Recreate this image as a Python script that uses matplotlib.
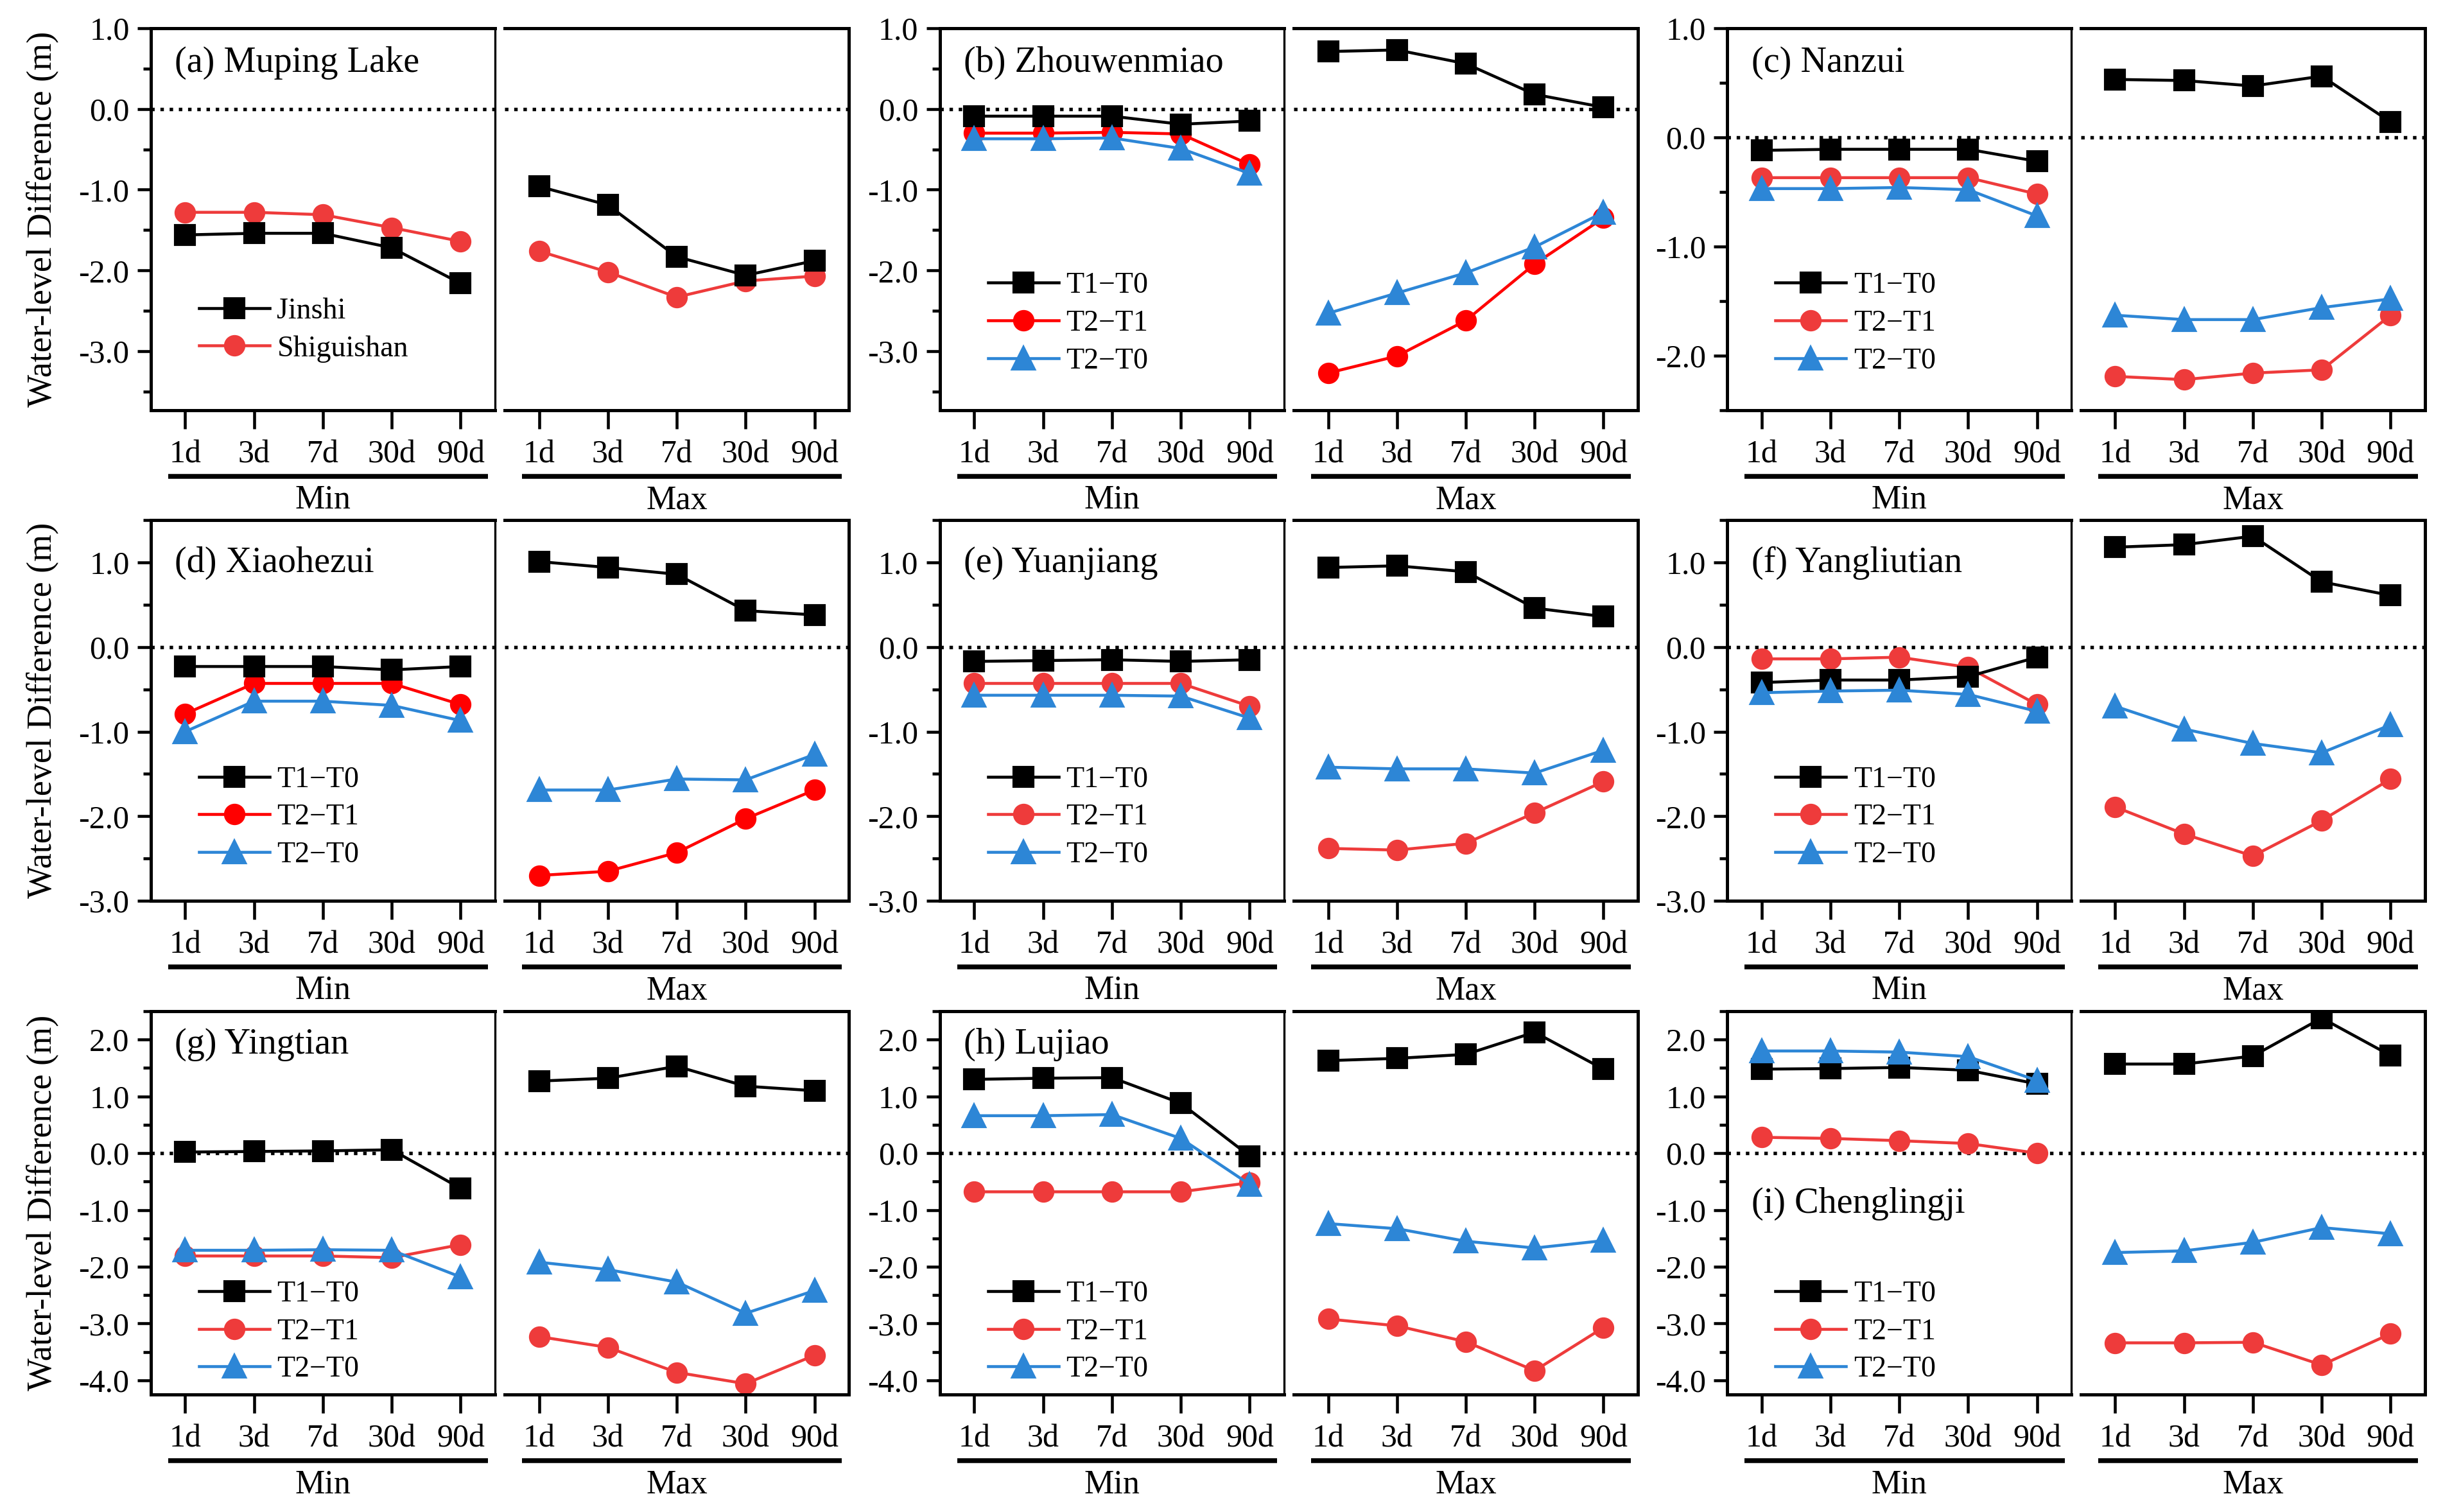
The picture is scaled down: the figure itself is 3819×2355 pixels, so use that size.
import matplotlib.pyplot as plt
import numpy as np
from matplotlib.ticker import MultipleLocator, FormatStrFormatter
from matplotlib.lines import Line2D

plt.rcParams['font.family'] = ['Liberation Serif', 'DejaVu Serif']
plt.rcParams['axes.unicode_minus'] = False

# x categories (duration of the min / max water level)
durations = ['1d', '3d', '7d', '30d', '90d']

# (a) Muping Lake
jinshi_min = [-1.56, -1.54, -1.54, -1.72, -2.16]
jinshi_max = [-0.96, -1.19, -1.83, -2.06, -1.88]
shigui_min = [-1.28, -1.28, -1.31, -1.47, -1.64]
shigui_max = [-1.76, -2.02, -2.33, -2.13, -2.07]

# (b) Zhouwenmiao
zhou_t1t0_min = [-0.09, -0.09, -0.09, -0.19, -0.15]
zhou_t1t0_max = [0.71, 0.73, 0.56, 0.18, 0.02]
zhou_t2t1_min = [-0.30, -0.30, -0.29, -0.31, -0.69]
zhou_t2t1_max = [-3.27, -3.06, -2.62, -1.92, -1.35]
zhou_t2t0_min = [-0.37, -0.37, -0.36, -0.49, -0.80]
zhou_t2t0_max = [-2.53, -2.28, -2.03, -1.71, -1.28]

# (c) Nanzui
nanz_t1t0_min = [-0.12, -0.11, -0.11, -0.11, -0.22]
nanz_t1t0_max = [0.53, 0.52, 0.47, 0.56, 0.14]
nanz_t2t1_min = [-0.37, -0.37, -0.37, -0.37, -0.52]
nanz_t2t1_max = [-2.19, -2.22, -2.16, -2.13, -1.63]
nanz_t2t0_min = [-0.47, -0.47, -0.46, -0.48, -0.72]
nanz_t2t0_max = [-1.63, -1.67, -1.67, -1.56, -1.48]

# (d) Xiaohezui
xiao_t1t0_min = [-0.23, -0.23, -0.23, -0.27, -0.23]
xiao_t1t0_max = [1.01, 0.94, 0.86, 0.43, 0.38]
xiao_t2t1_min = [-0.79, -0.43, -0.43, -0.43, -0.68]
xiao_t2t1_max = [-2.70, -2.65, -2.43, -2.03, -1.69]
xiao_t2t0_min = [-1.00, -0.64, -0.64, -0.69, -0.87]
xiao_t2t0_max = [-1.69, -1.69, -1.56, -1.57, -1.27]

# (e) Yuanjiang
yuan_t1t0_min = [-0.17, -0.16, -0.15, -0.17, -0.15]
yuan_t1t0_max = [0.94, 0.96, 0.89, 0.46, 0.36]
yuan_t2t1_min = [-0.43, -0.43, -0.43, -0.43, -0.70]
yuan_t2t1_max = [-2.38, -2.40, -2.32, -1.96, -1.59]
yuan_t2t0_min = [-0.57, -0.57, -0.57, -0.58, -0.84]
yuan_t2t0_max = [-1.42, -1.44, -1.44, -1.49, -1.22]

# (f) Yangliutian
yang_t1t0_min = [-0.42, -0.39, -0.39, -0.35, -0.12]
yang_t1t0_max = [1.18, 1.21, 1.31, 0.77, 0.61]
yang_t2t1_min = [-0.14, -0.14, -0.12, -0.24, -0.68]
yang_t2t1_max = [-1.89, -2.21, -2.47, -2.05, -1.56]
yang_t2t0_min = [-0.54, -0.52, -0.51, -0.56, -0.76]
yang_t2t0_max = [-0.70, -0.97, -1.14, -1.25, -0.92]

# (g) Yingtian
ying_t1t0_min = [0.02, 0.03, 0.04, 0.06, -0.62]
ying_t1t0_max = [1.27, 1.32, 1.53, 1.18, 1.10]
ying_t2t1_min = [-1.81, -1.81, -1.81, -1.84, -1.61]
ying_t2t1_max = [-3.23, -3.42, -3.86, -4.06, -3.56]
ying_t2t0_min = [-1.71, -1.71, -1.70, -1.71, -2.18]
ying_t2t0_max = [-1.92, -2.05, -2.27, -2.82, -2.42]

# (h) Lujiao
luj_t1t0_min = [1.30, 1.32, 1.33, 0.88, -0.05]
luj_t1t0_max = [1.63, 1.67, 1.74, 2.13, 1.48]
luj_t2t1_min = [-0.68, -0.68, -0.68, -0.68, -0.52]
luj_t2t1_max = [-2.92, -3.04, -3.32, -3.83, -3.07]
luj_t2t0_min = [0.66, 0.66, 0.68, 0.26, -0.55]
luj_t2t0_max = [-1.24, -1.33, -1.55, -1.67, -1.54]

# (i) Chenglingji
chen_t1t0_min = [1.48, 1.49, 1.51, 1.46, 1.22]
chen_t1t0_max = [1.57, 1.57, 1.71, 2.38, 1.72]
chen_t2t1_min = [0.28, 0.26, 0.22, 0.17, 0.00]
chen_t2t1_max = [-3.34, -3.34, -3.33, -3.73, -3.18]
chen_t2t0_min = [1.80, 1.80, 1.78, 1.70, 1.28]
chen_t2t0_max = [-1.75, -1.72, -1.57, -1.31, -1.42]

BLACK = 'black'
RED_PURE = '#FF0000'
RED = '#EE3B3B'
BLUE = '#2D86D6'

# series style: (label, color, marker, markersize, zorder, (min, max))
def diff_series(t1t0, t2t1, t2t0, red):
    return [('T1\u2212T0', BLACK, 's', 7.0, 3, t1t0),
            ('T2\u2212T1', red, 'o', 7.0, 2, t2t1),
            ('T2\u2212T0', BLUE, '^', 8.0, 4, t2t0)]

panels = [
    ('(a) Muping Lake', (-3.73, 1.0),
     [('Jinshi', BLACK, 's', 7.0, 3, (jinshi_min, jinshi_max)),
      ('Shiguishan', RED, 'o', 7.0, 2, (shigui_min, shigui_max))]),
    ('(b) Zhouwenmiao', (-3.73, 1.0),
     diff_series((zhou_t1t0_min, zhou_t1t0_max), (zhou_t2t1_min, zhou_t2t1_max),
                 (zhou_t2t0_min, zhou_t2t0_max), RED_PURE)),
    ('(c) Nanzui', (-2.5, 1.0),
     diff_series((nanz_t1t0_min, nanz_t1t0_max), (nanz_t2t1_min, nanz_t2t1_max),
                 (nanz_t2t0_min, nanz_t2t0_max), RED)),
    ('(d) Xiaohezui', (-3.0, 1.5),
     diff_series((xiao_t1t0_min, xiao_t1t0_max), (xiao_t2t1_min, xiao_t2t1_max),
                 (xiao_t2t0_min, xiao_t2t0_max), RED_PURE)),
    ('(e) Yuanjiang', (-3.0, 1.5),
     diff_series((yuan_t1t0_min, yuan_t1t0_max), (yuan_t2t1_min, yuan_t2t1_max),
                 (yuan_t2t0_min, yuan_t2t0_max), RED)),
    ('(f) Yangliutian', (-3.0, 1.5),
     diff_series((yang_t1t0_min, yang_t1t0_max), (yang_t2t1_min, yang_t2t1_max),
                 (yang_t2t0_min, yang_t2t0_max), RED)),
    ('(g) Yingtian', (-4.25, 2.5),
     diff_series((ying_t1t0_min, ying_t1t0_max), (ying_t2t1_min, ying_t2t1_max),
                 (ying_t2t0_min, ying_t2t0_max), RED)),
    ('(h) Lujiao', (-4.25, 2.5),
     diff_series((luj_t1t0_min, luj_t1t0_max), (luj_t2t1_min, luj_t2t1_max),
                 (luj_t2t0_min, luj_t2t0_max), RED)),
    ('(i) Chenglingji', (-4.25, 2.5),
     diff_series((chen_t1t0_min, chen_t1t0_max), (chen_t2t1_min, chen_t2t1_max),
                 (chen_t2t0_min, chen_t2t0_max), RED)),
]

# layout (figure fractions)
col_min_left = [0.0615, 0.3833, 0.7044]
col_max_left = [0.2058, 0.5276, 0.8486]
ax_w = 0.1404
row_bottom = [0.7287, 0.4042, 0.0777]
row_h = [0.2527, 0.2518, 0.2535]
title_y = [0.909, 0.887, 0.913]
legend_y = [0.093, 0.085, 0.030]


def style_axis(ax, ylim, group, show_y):
    ax.set_xlim(-0.5, 4.5)
    ax.set_ylim(ylim)
    ax.set_xticks(range(len(durations)))
    ax.set_xticklabels(durations)
    ax.tick_params(axis='x', direction='out', length=7, width=1.1, pad=4, labelsize=12)
    ax.axhline(0, color='black', ls=':', lw=1.3, zorder=1)
    for s in ax.spines.values():
        s.set_linewidth(1.2)
    if show_y:
        ax.yaxis.set_major_locator(MultipleLocator(1.0))
        ax.yaxis.set_minor_locator(MultipleLocator(0.5))
        ax.yaxis.set_major_formatter(FormatStrFormatter('%.1f'))
        ax.tick_params(axis='y', which='major', direction='out', length=5, width=1.1,
                       labelsize=12, pad=3)
        ax.tick_params(axis='y', which='minor', direction='out', length=3, width=1.1)
        ax.spines['right'].set_linewidth(0.8)
    else:
        ax.spines['left'].set_visible(False)
        ax.tick_params(axis='y', which='both', left=False, labelleft=False)
    # group underline and label under the tick labels
    ax.plot([0.05, 0.98], [-0.173, -0.173], transform=ax.transAxes, color='black',
            lw=1.8, clip_on=False, solid_capstyle='butt')
    ax.text(0.5, -0.236, group, transform=ax.transAxes, ha='center', va='center',
            fontsize=12.5)


fig = plt.figure(figsize=(3819 / 300, 2355 / 300), dpi=300)
x = np.arange(len(durations))

for i, (title, ylim, series) in enumerate(panels):
    r, c = divmod(i, 3)
    ax_min = fig.add_axes([col_min_left[c], row_bottom[r], ax_w, row_h[r]])
    ax_max = fig.add_axes([col_max_left[c], row_bottom[r], ax_w, row_h[r]])
    style_axis(ax_min, ylim, 'Min', True)
    style_axis(ax_max, ylim, 'Max', False)

    handles = []
    for label, color, marker, ms, z, (vmin, vmax) in series:
        for ax, vals in ((ax_min, vmin), (ax_max, vmax)):
            ax.plot(x, vals, color=color, marker=marker, ms=ms, lw=1.1,
                    mec=color, mfc=color, zorder=z)
        handles.append(Line2D([], [], color=color, marker=marker, ms=ms, lw=1.1,
                              mec=color, mfc=color, label=label))

    ty = 0.497 if title.startswith('(i)') else title_y[r]
    ax_min.text(0.07, ty, title, transform=ax_min.transAxes, fontsize=13.5, va='center')

    ly = legend_y[r] + (0.032 if i == 0 else 0)
    ax_min.legend(handles=handles, loc='lower left', bbox_to_anchor=(0.14, ly),
                  frameon=False, fontsize=11, handlelength=2.4, handletextpad=0.25,
                  labelspacing=0.35, borderpad=0, borderaxespad=0)

    if c == 0:
        fig.text(0.0173, row_bottom[r] + row_h[r] / 2, 'Water-level Difference (m)',
                 rotation=90, ha='center', va='center', fontsize=13)

fig.savefig('out.png', dpi=300)
